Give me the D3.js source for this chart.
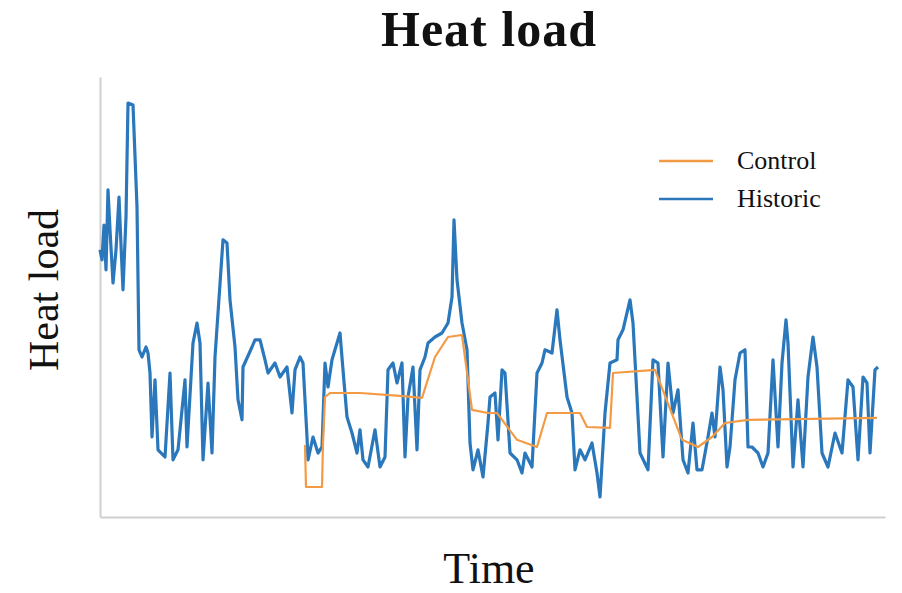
<!DOCTYPE html>
<html>
<head>
<meta charset="utf-8">
<script src="https://cdn.jsdelivr.net/npm/d3@7"></script>
<style>
  body { margin: 0; background: #fff; }
  text { font-family: "Liberation Serif", "DejaVu Serif", serif; fill: #111; }
  .axis path { stroke: #cfcfcf; stroke-width: 2; }
</style>
</head>
<body>
<div id="chart"></div>
<script>
// historic heat load (time step, load)
var historicTime = [0, 2, 4, 6, 8, 10, 13, 16, 19, 21, 23, 26, 28, 33, 37, 39, 42, 46, 48, 50,
  52, 55, 58, 65, 70, 73, 78, 85, 87, 93, 97, 100, 103, 108, 112, 115, 123, 127, 130, 135,
  138, 142, 143, 152, 155, 160, 165, 168, 175, 180, 187, 192, 195, 200, 203, 207, 208, 213, 218, 222,
  225, 228, 232, 240, 243, 247, 252, 257, 260, 263, 268, 275, 280, 285, 288, 293, 297, 302, 305, 308,
  313, 317, 320, 325, 328, 335, 342, 348, 352, 354, 357, 362, 367, 370, 373, 378, 383, 388, 390, 395,
  398, 402, 405, 410, 417, 422, 425, 432, 437, 442, 445, 452, 457, 460, 467, 472, 475, 480, 485, 492,
  497, 500, 505, 510, 517, 518, 523, 530, 533, 537, 540, 548, 553, 558, 563, 568, 573, 578, 583, 588,
  593, 597, 602, 608, 612, 615, 620, 623, 627, 630, 635, 640, 645, 648, 652, 658, 663, 668, 673, 678,
  682, 686, 688, 693, 698, 703, 708, 713, 717, 722, 728, 735, 742, 748, 753, 758, 763, 767, 770, 775, 778];
var historicLoad = [66.8, 64.3, 73, 61.8, 81.8, 71.8, 58.5, 66.8, 80, 68, 56.8, 75, 103.5, 103, 77.5, 41.8, 40, 42.5, 41, 36,
  20, 34.3, 16.8, 15, 36, 14.3, 16.8, 34.3, 17.5, 43.5, 48.5, 43.5, 14.3, 33.5, 16, 40, 69.3, 68.5, 54.3, 42.5,
  29.3, 24.3, 37.5, 42.5, 44.3, 44.3, 39.3, 36, 38.5, 35, 37.5, 26, 36.8, 40, 38.5, 20, 14.3, 20, 16, 17.5,
  38.5, 32.5, 39.3, 46, 36.8, 25, 21, 16, 21.8, 14.3, 12.5, 21.8, 12.5, 15, 36.8, 38.5, 33.5, 38.5, 15, 30,
  37.5, 16.8, 36.8, 40, 43.5, 45, 46, 48.5, 55, 74.3, 59.3, 48.5, 41.8, 18.5, 11.8, 16.8, 10, 23.5, 30, 31,
  19.3, 36.8, 36, 16, 14.3, 11, 16, 12.5, 36, 38.5, 41.8, 41, 51.8, 44.3, 30, 26, 11.8, 16.8, 14.3, 18.5,
  11, 5, 26, 38.5, 39.3, 44.3, 46.8, 54.3, 48.5, 30, 16, 11.8, 39.3, 38.5, 15, 38.5, 26, 31.8, 14.3, 11,
  23.5, 11.8, 11.8, 20, 26, 20, 37.5, 31.8, 12.5, 17.5, 34.3, 41, 41.8, 17.5, 17.5, 16, 12.5, 16, 39.3, 17.5,
  38.5, 49.3, 43.5, 12.5, 29.3, 12.5, 35, 45, 37.5, 16, 12.5, 21, 16, 34.3, 32.5, 14.3, 35, 33.5, 16, 36.8, 37.5];

// control heat load
var controlTime = [205, 206, 222, 223, 225, 230, 260, 300, 322, 335, 348, 362, 372, 388, 397, 417, 437, 447, 480, 487,
  510, 513, 555, 582, 598, 612, 625, 648, 777];
var controlLoad = [18, 7.5, 7.5, 18.5, 30, 31, 31, 30.3, 29.8, 40, 45, 45.5, 26.8, 26, 26, 19.3, 17.5, 26, 26, 22.5,
  22.3, 36, 36.8, 19.3, 17.5, 20, 23.5, 24.3, 24.8];

var seriesNames = ["Control", "Historic"],
    seriesColors = ["#f39a45", "#2a78bb"];

var margin = { top: 77, right: 17, bottom: 76, left: 100 },
    width = 902 - margin.left - margin.right,
    height = 593 - margin.top - margin.bottom;

var svg = d3.select("#chart").append("svg")
    .attr("width", 902)
    .attr("height", 593);

var x = d3.scaleLinear().domain([0, 785]).range([margin.left, margin.left + width]);
var y = d3.scaleLinear().domain([0, 110]).range([margin.top + height, margin.top]);

// axes without ticks, just the spines
svg.append("g")
    .attr("class", "axis")
    .attr("transform", "translate(0," + (margin.top + height) + ")")
    .call(d3.axisBottom(x).tickValues([]).tickSizeOuter(0));

svg.append("g")
    .attr("class", "axis")
    .attr("transform", "translate(" + margin.left + ",0)")
    .call(d3.axisLeft(y).tickValues([]).tickSizeOuter(0));

var line = d3.line()
    .x(function(d) { return x(d[0]); })
    .y(function(d) { return y(d[1]); });

var historic = d3.zip(historicTime, historicLoad),
    control = d3.zip(controlTime, controlLoad);

svg.append("path")
    .datum(historic)
    .attr("fill", "none")
    .attr("stroke", seriesColors[1])
    .attr("stroke-width", 3.2)
    .attr("stroke-linejoin", "round")
    .attr("d", line);

svg.append("path")
    .datum(control)
    .attr("fill", "none")
    .attr("stroke", seriesColors[0])
    .attr("stroke-width", 2.2)
    .attr("stroke-linejoin", "round")
    .attr("d", line);

// titles
svg.append("text")
    .attr("x", 489).attr("y", 46)
    .style("text-anchor", "middle")
    .style("font-weight", "bold")
    .style("font-size", "50px")
    .style("letter-spacing", "1px")
    .text("Heat load");

svg.append("text")
    .attr("transform", "translate(58,290) rotate(-90)")
    .style("text-anchor", "middle")
    .style("font-size", "42px")
    .text("Heat load");

svg.append("text")
    .attr("x", 489).attr("y", 583)
    .style("text-anchor", "middle")
    .style("font-size", "44px")
    .text("Time");

// legend
var legend = svg.selectAll(".legend")
    .data(seriesNames)
    .enter().append("g")
      .attr("class", "legend")
      .attr("transform", function(d, i) { return "translate(659," + (161 + i * 38) + ")"; });

legend.append("line")
    .attr("x1", 0).attr("x2", 54)
    .attr("stroke", function(d, i) { return seriesColors[i]; })
    .attr("stroke-width", 2.5);

legend.append("text")
    .attr("x", 78).attr("y", 8)
    .style("font-size", "26px")
    .text(function(d) { return d; });
</script>
</body>
</html>
